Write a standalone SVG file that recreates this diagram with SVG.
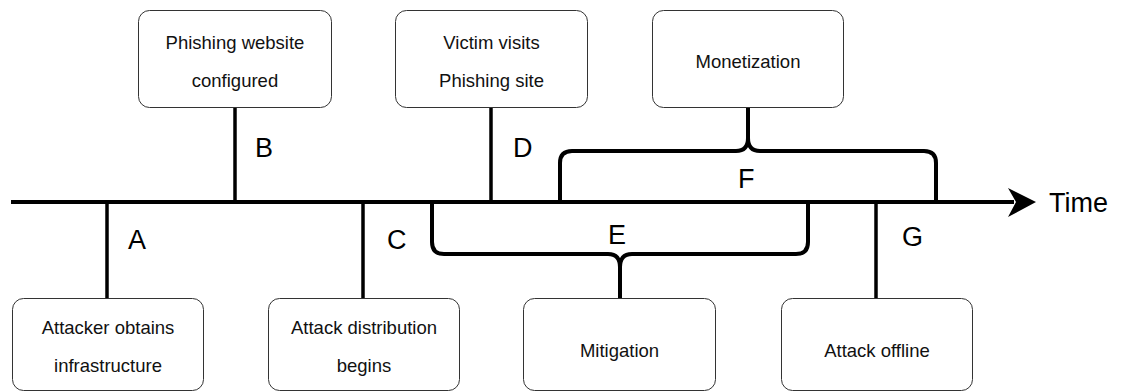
<svg xmlns="http://www.w3.org/2000/svg" width="1129" height="391" viewBox="0 0 1129 391">
<defs>
<style>
.box{fill:#fff;stroke:#333;stroke-width:1}
.bt{font-family:"Liberation Sans",Arial,sans-serif;font-size:18.5px;fill:#111;text-anchor:middle}
.lbl{font-family:"Liberation Sans",Arial,sans-serif;font-size:27px;fill:#000}
.ln{fill:none;stroke:#000;stroke-width:3.5}
.br{fill:none;stroke:#000;stroke-width:4;stroke-linejoin:round}
</style>
</defs>
<rect width="1129" height="391" fill="#fff"/>
<g id="connectors">
<line x1="11" y1="202" x2="1014" y2="202" stroke="#000" stroke-width="4"/>
<path d="M1008,188 L1036,202 L1008,217 L1016,202 Z" fill="#000"/>
<line class="ln" x1="107" y1="202" x2="107" y2="298"/>
<line class="ln" x1="235" y1="107" x2="235" y2="202"/>
<line class="ln" x1="363" y1="202" x2="363" y2="298"/>
<line class="ln" x1="491" y1="107" x2="491" y2="202"/>
<line class="ln" x1="876" y1="202" x2="876" y2="298"/>
<path class="br" d="M560,200 V163 Q560,151 572,151 H736 Q748,151 748,138 Q748,151 760,151 H924 Q936,151 936,163 V200"/>
<line class="br" x1="748" y1="140" x2="748" y2="107"/>
<path class="br" d="M432,204 V242 Q432,254 444,254 H608 Q620,254 620,267 Q620,254 632,254 H796 Q808,254 808,242 V204"/>
<line class="br" x1="620" y1="265" x2="620" y2="298"/>
</g>
<g id="lbl-time"><text class="lbl" x="1049" y="212">Time</text></g>
<g id="lbl-A"><text class="lbl" x="128" y="249">A</text></g>
<g id="lbl-B"><text class="lbl" x="255" y="157">B</text></g>
<g id="lbl-C"><text class="lbl" x="387" y="249">C</text></g>
<g id="lbl-D"><text class="lbl" x="513" y="157">D</text></g>
<g id="lbl-E"><text class="lbl" x="608" y="244">E</text></g>
<g id="lbl-F"><text class="lbl" x="738" y="188">F</text></g>
<g id="lbl-G"><text class="lbl" x="902" y="246">G</text></g>
<g id="node-phishing-website">
<rect class="box" x="138.5" y="10.5" width="193" height="97" rx="11"/>
<text class="bt" x="235" y="49">Phishing website</text>
<text class="bt" x="235" y="87">configured</text>
</g>
<g id="node-victim-visits">
<rect class="box" x="395.5" y="10.5" width="192" height="97" rx="11"/>
<text class="bt" x="491.5" y="49">Victim visits</text>
<text class="bt" x="491.5" y="87">Phishing site</text>
</g>
<g id="node-monetization">
<rect class="box" x="652.5" y="10.5" width="191" height="97" rx="11"/>
<text class="bt" x="748" y="68">Monetization</text>
</g>
<g id="node-attacker-obtains">
<rect class="box" x="12.5" y="298.5" width="191" height="92" rx="11"/>
<text class="bt" x="108" y="334">Attacker obtains</text>
<text class="bt" x="108" y="372">infrastructure</text>
</g>
<g id="node-attack-distribution">
<rect class="box" x="268.5" y="298.5" width="191" height="92" rx="11"/>
<text class="bt" x="364" y="334">Attack distribution</text>
<text class="bt" x="364" y="372">begins</text>
</g>
<g id="node-mitigation">
<rect class="box" x="523.5" y="298.5" width="192" height="92" rx="11"/>
<text class="bt" x="619.5" y="357">Mitigation</text>
</g>
<g id="node-attack-offline">
<rect class="box" x="781.5" y="298.5" width="191" height="92" rx="11"/>
<text class="bt" x="877" y="357">Attack offline</text>
</g>
</svg>
